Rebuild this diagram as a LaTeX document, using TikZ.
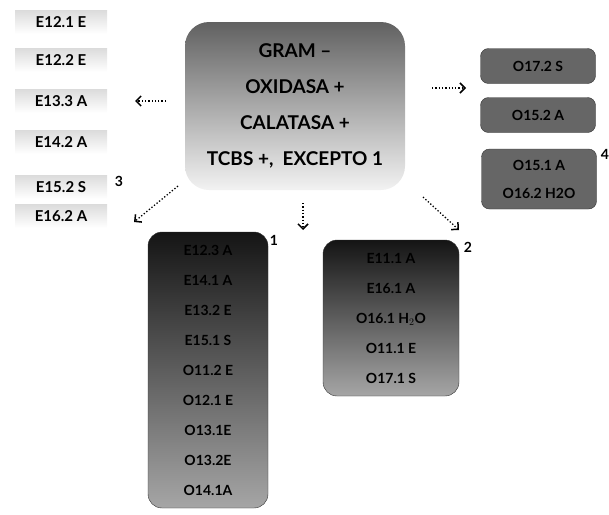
\documentclass[tikz,border=0pt]{standalone}
\usepackage{fontspec}
\setmainfont{Lato}
\usetikzlibrary{arrows.meta,positioning}

\begin{document}
\begin{tikzpicture}[
    x=1pt, y=-1pt,
    flecha/.style={dotted, line width=1.3pt, -{Straight Barb[length=5pt,width=10pt,line width=1.5pt]}},
    etiqueta/.style={font=\fontsize{15}{18}\selectfont\bfseries, top color=black!14, bottom color=white, inner sep=2pt, minimum width=92pt, minimum height=24pt, text depth=-6pt},
    central/.style={rounded corners=24pt, top color=black!62, bottom color=black!5, minimum width=220pt, minimum height=168pt, align=center, font=\fontsize{19}{36}\selectfont\bfseries},
    oscuro/.style={rounded corners=14pt, top color=black!92, middle color=black!70, bottom color=black!35, draw=black!80, align=center, font=\fontsize{14}{30}\selectfont\bfseries},
    gris/.style={rounded corners=8pt, fill=black!60, draw=black!80, minimum width=115pt, align=center, font=\fontsize{14}{28}\selectfont\bfseries},
    numero/.style={font=\fontsize{14}{14}\selectfont\bfseries}
]
    \useasboundingbox (0,0) rectangle (609,514);

    % Caja central con los criterios
    \node [central] (criterio) at (295,106) {GRAM --\\ OXIDASA +\\ CALATASA +\\ TCBS +, \ EXCEPTO 1};

    % Especies a la izquierda
    \node [etiqueta] (e121) at (61,22) {E12.1 E};
    \node [etiqueta] (e122) at (61,60) {E12.2 E};
    \node [etiqueta] (e133) at (61,101) {E13.3 A};
    \node [etiqueta] (e142) at (61,142) {E14.2 A};
    \node [etiqueta] (e152) at (61,187) {E15.2 S};
    \node [etiqueta] (e162) at (61,216) {E16.2 A};
    \node [numero] (n3) at (119,181) {3};

    % Cajas a la derecha
    \node [gris, minimum height=35pt] (o172) at (538,66) {O17.2 S};
    \node [gris, minimum height=35pt] (o152) at (538,115) {O15.2 A};
    \node [gris, minimum height=60pt] (grupo4) at (539,179) {O15.1 A\\ O16.2 H2O};
    \node [numero] (n4) at (605,154) {4};

    % Grupo 1
    \node [oscuro, minimum width=120pt, minimum height=276pt] (grupo1) at (208,370)
        {E12.3 A\\ E14.1 A\\ E13.2 E\\ E15.1 S\\ O11.2 E\\ O12.1 E\\ O13.1E\\ O13.2E\\ O14.1A};
    \node [numero] (n1) at (274,240) {1};

    % Grupo 2
    \node [oscuro, minimum width=136pt, minimum height=156pt] (grupo2) at (391,318)
        {E11.1 A\\ E16.1 A\\ O16.1 H$_2$O\\ O11.1 E\\ O17.1 S};
    \node [numero] (n2) at (468,247) {2};

    % Flechas punteadas
    \coordinate (izqA) at (166,101);  \coordinate (izqB) at (135,101);
    \coordinate (derA) at (432,88);   \coordinate (derB) at (466,88);
    \coordinate (diagA) at (178,186); \coordinate (diagB) at (134,222);
    \coordinate (abajoA) at (303,203); \coordinate (abajoB) at (303,230);
    \coordinate (diagC) at (423,197); \coordinate (diagD) at (459,230);
    \draw [flecha] (izqA) -- (izqB);
    \draw [flecha] (derA) -- (derB);
    \draw [flecha] (diagA) -- (diagB);
    \draw [flecha] (abajoA) -- (abajoB);
    \draw [flecha] (diagC) -- (diagD);
\end{tikzpicture}
\end{document}
